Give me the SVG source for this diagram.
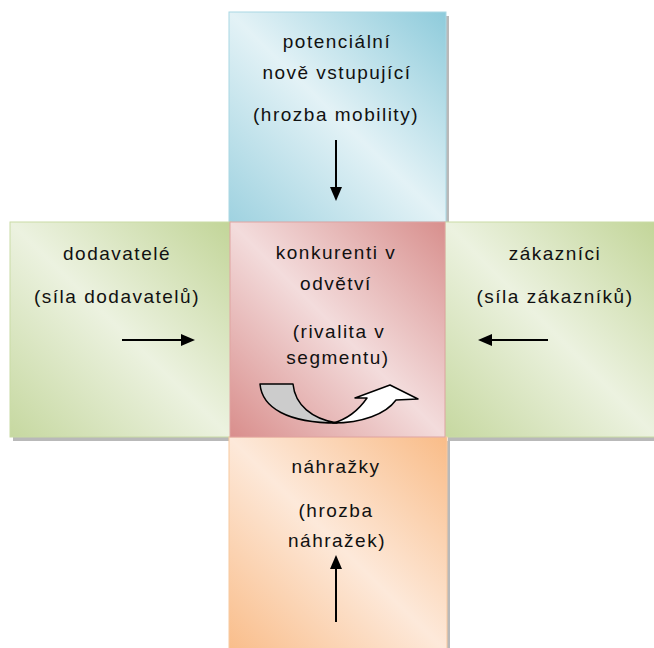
<svg xmlns="http://www.w3.org/2000/svg" width="654" height="648" viewBox="0 0 654 648">
<defs>
<linearGradient id="gBlue" x1="1" y1="0" x2="0" y2="1">
<stop offset="0" stop-color="#8ecbdb"/><stop offset="0.5" stop-color="#e3f2f6"/><stop offset="1" stop-color="#9fd2e0"/>
</linearGradient>
<linearGradient id="gPink" x1="1" y1="0" x2="0" y2="1">
<stop offset="0" stop-color="#d88f8d"/><stop offset="0.5" stop-color="#f3dcdc"/><stop offset="1" stop-color="#d98e8c"/>
</linearGradient>
<linearGradient id="gGreen" x1="1" y1="0" x2="0" y2="1">
<stop offset="0" stop-color="#c2d598"/><stop offset="0.5" stop-color="#ecf2e0"/><stop offset="1" stop-color="#c6d8a0"/>
</linearGradient>
<linearGradient id="gOrange" x1="1" y1="0" x2="0" y2="1">
<stop offset="0" stop-color="#f9bc88"/><stop offset="0.5" stop-color="#fde9da"/><stop offset="1" stop-color="#f9bd8a"/>
</linearGradient>
<marker id="ah" viewBox="0 0 14 12" markerWidth="14" markerHeight="12" refX="8" refY="6" orient="auto" markerUnits="userSpaceOnUse">
<path d="M0,0 L14,6 L0,12 Z" fill="#000"/>
</marker>
</defs>
<style>
.sh{fill:#7f7f7f;opacity:0.55}
.box{stroke-width:1}
.t{font-family:"Liberation Sans",Arial,sans-serif;font-size:19px;fill:#111;text-anchor:middle;letter-spacing:1.5px}
.arr{stroke:#000;stroke-width:2;fill:none;marker-end:url(#ah)}
.curve{stroke:#000;stroke-width:1.5;stroke-linejoin:round}
</style>
<rect width="654" height="648" fill="#fff"/>

<g id="node-top">
<rect class="sh" x="232" y="16" width="217" height="210"/>
<rect class="box" x="229" y="12" width="217" height="210" fill="url(#gBlue)" stroke="#a9d8e4"/>
<text class="t" x="337" y="48">potenciální</text>
<text class="t" x="337" y="79">nově vstupující</text>
<text class="t" x="336" y="121">(hrozba mobility)</text>
</g>

<g id="node-left">
<rect class="sh" x="13" y="226" width="221" height="215"/>
<rect class="box" x="10" y="222" width="221" height="215" fill="url(#gGreen)" stroke="#c9dba6"/>
<text class="t" x="117" y="260">dodavatelé</text>
<text class="t" x="117" y="303">(síla dodavatelů)</text>
</g>

<g id="node-right">
<rect class="sh" x="448" y="226" width="209" height="215"/>
<rect class="box" x="445" y="222" width="212" height="215" fill="url(#gGreen)" stroke="#c9dba6"/>
<text class="t" x="555" y="260">zákazníci</text>
<text class="t" x="555" y="303">(síla zákazníků)</text>
</g>

<g id="node-bottom">
<rect class="sh" x="232" y="441" width="218" height="215"/>
<rect class="box" x="229" y="437" width="218" height="215" fill="url(#gOrange)" stroke="#f8c9a0"/>
<text class="t" x="336" y="473">náhražky</text>
<text class="t" x="336" y="517">(hrozba</text>
<text class="t" x="337" y="547">náhražek)</text>
</g>

<g id="node-center">
<rect class="box" x="230" y="222" width="215" height="215" fill="url(#gPink)" stroke="#dfa3a1"/>
<text class="t" x="336" y="259">konkurenti v</text>
<text class="t" x="336" y="290">odvětví</text>
<text class="t" x="339" y="338">(rivalita v</text>
<text class="t" x="338" y="364">segmentu)</text>
<path class="curve" fill="#cccccc" d="M260,384 L293,384 C295,405 312,419 337,423 C288,423 262,408 260,384 Z"/>
<path class="curve" fill="#ffffff" d="M333,423 C362,423 386,414 396,400 L418,399 L390,385 L355,398 L367,398 C358,411 348,419 333,423 Z"/>
</g>

<g id="connectors">
<line class="arr" x1="336" y1="140" x2="336" y2="195"/>
<line class="arr" x1="122" y1="340" x2="189" y2="340"/>
<line class="arr" x1="548" y1="340" x2="484" y2="340"/>
<line class="arr" x1="336" y1="622" x2="336" y2="561"/>
</g>
</svg>
